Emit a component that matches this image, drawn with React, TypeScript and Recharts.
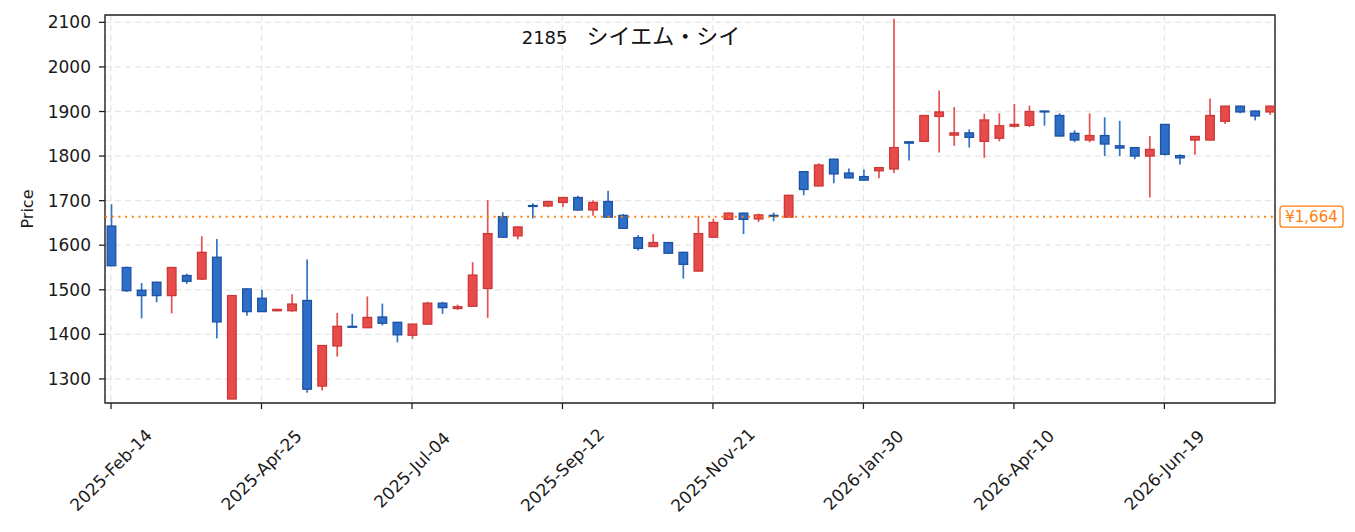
import { ComposedChart, Bar, XAxis, YAxis, CartesianGrid, ReferenceLine, ReferenceArea } from "recharts";

// weekly candles, index 0 = 2025-Feb-14
const opens = [
  1643, 1550, 1499, 1517, 1487, 1532, 1524, 1573, 1255, 1502,
  1481, 1453, 1453, 1476, 1284, 1374, 1418, 1415, 1439, 1427,
  1398, 1423, 1470, 1458, 1463, 1503, 1664, 1621, 1689, 1688,
  1696, 1707, 1679, 1698, 1667, 1617, 1597, 1606, 1584, 1542,
  1618, 1658, 1672, 1659, 1667, 1663, 1765, 1733, 1793, 1762,
  1754, 1767, 1771, 1832, 1833, 1889, 1847, 1852, 1833, 1840,
  1867, 1869, 1901, 1891, 1851, 1836, 1846, 1823, 1819, 1800,
  1871, 1801, 1836, 1836, 1878, 1912, 1901, 1899,
];
const highs = [
  1692, 1552, 1515, 1518, 1551, 1536, 1620, 1614, 1488, 1503,
  1500, 1457, 1490, 1568, 1376, 1448, 1446, 1485, 1469, 1428,
  1424, 1473, 1473, 1467, 1562, 1701, 1674, 1642, 1694, 1699,
  1708, 1711, 1701, 1722, 1670, 1623, 1625, 1607, 1585, 1665,
  1659, 1673, 1673, 1671, 1673, 1713, 1766, 1784, 1794, 1772,
  1770, 1775, 2108, 1833, 1892, 1947, 1910, 1860, 1895, 1896,
  1917, 1913, 1902, 1896, 1858, 1896, 1887, 1879, 1820, 1845,
  1872, 1804, 1845, 1929, 1913, 1913, 1902, 1913,
];
const lows = [
  1553, 1495, 1436, 1472, 1447, 1513, 1522, 1391, 1255, 1442,
  1450, 1452, 1451, 1269, 1274, 1350, 1415, 1414, 1420, 1382,
  1390, 1422, 1446, 1455, 1462, 1437, 1617, 1613, 1660, 1685,
  1686, 1678, 1666, 1662, 1637, 1588, 1596, 1581, 1525, 1541,
  1617, 1657, 1625, 1652, 1654, 1662, 1712, 1732, 1739, 1750,
  1745, 1750, 1762, 1790, 1832, 1808, 1823, 1819, 1796, 1833,
  1864, 1865, 1868, 1844, 1831, 1831, 1800, 1800, 1793, 1707,
  1801, 1781, 1803, 1835, 1872, 1896, 1880, 1892,
];
const closes = [
  1554, 1498, 1487, 1487, 1550, 1519, 1584, 1428, 1487, 1451,
  1451, 1456, 1468, 1277, 1375, 1418, 1416, 1438, 1425, 1399,
  1423, 1470, 1460, 1462, 1533, 1626, 1618, 1641, 1687, 1698,
  1707, 1679, 1696, 1663, 1638, 1593, 1606, 1582, 1557, 1626,
  1651, 1672, 1658, 1668, 1665, 1712, 1725, 1780, 1760, 1751,
  1746, 1774, 1819, 1829, 1891, 1899, 1852, 1842, 1881, 1868,
  1871, 1900, 1899, 1845, 1836, 1846, 1827, 1818, 1800, 1815,
  1804, 1796, 1844, 1891, 1912, 1899, 1890, 1912,
];

const tickIdx = [0, 10, 20, 30, 40, 50, 60, 70];
const tickLabels = [
  "2025-Feb-14", "2025-Apr-25", "2025-Jul-04", "2025-Sep-12",
  "2025-Nov-21", "2026-Jan-30", "2026-Apr-10", "2026-Jun-19",
];
const yTicks = [1300, 1400, 1500, 1600, 1700, 1800, 1900, 2000, 2100];
const lastPrice = 1664;
const title = ["2185", "シイエム・シイ"];

const X_DOMAIN = [-0.4, 77.35];
const Y_DOMAIN = [1246, 2116.5];

const UP = { fill: "#e84c4a", edge: "#cc3837", wick: "#e45350" };
const DOWN = { fill: "#2e6ec6", edge: "#1c52a4", wick: "#3373c8" };
const ORANGE = "#ff7f0e";
const FONT = "'DejaVu Sans', 'Noto Sans CJK JP', sans-serif";

const data = opens.map((o, i) => ({
  i,
  o,
  h: highs[i],
  l: lows[i],
  c: closes[i],
  range: [lows[i], highs[i]],
}));

const Candle = (props: any) => {
  const { x, y, width, height, payload } = props;
  if (!payload) return null;
  const { o, c, h, l } = payload;
  const top = Math.min(y, y + height);
  const span = Math.abs(height);
  const ppu = span / (h - l || 1);
  const cx = x + width / 2;
  const col = c >= o ? UP : DOWN;
  const yOf = (v: number) => top + (h - v) * ppu;
  const bTop = yOf(Math.max(o, c));
  const bH = Math.max(yOf(Math.min(o, c)) - bTop, 0.9);
  const bw = 8.6;
  return (
    <g>
      <line x1={cx} x2={cx} y1={top} y2={top + span} stroke={col.wick} strokeWidth={1.7} />
      <rect x={cx - bw / 2} y={bTop} width={bw} height={bH} fill={col.fill} stroke={col.edge} strokeWidth={1.3} />
    </g>
  );
};

const XTick = (props: any) => {
  const { x, y, payload } = props;
  const k = tickIdx.indexOf(payload.value);
  const cy = y + 59;
  return (
    <text
      x={x}
      y={cy}
      textAnchor="middle"
      dominantBaseline="central"
      transform={`rotate(-45, ${x}, ${cy})`}
      fontFamily={FONT}
      fontSize={17}
      fill="#1a1a1a"
    >
      {tickLabels[k] ?? ""}
    </text>
  );
};

const PriceTag = (props: any) => {
  const vb = props.viewBox || {};
  const yy = vb.y ?? 0;
  const x0 = (vb.x ?? 0) + (vb.width ?? 0) + 5;
  return (
    <g>
      <rect x={x0} y={yy - 10.5} width={63} height={21} rx={3} fill="#fff" stroke={ORANGE} strokeWidth={1.3} />
      <text x={x0 + 31.5} y={yy + 0.5} textAnchor="middle" dominantBaseline="central" fontFamily={FONT} fontSize={15} fill={ORANGE}>
        ¥{lastPrice.toLocaleString("en-US")}
      </text>
    </g>
  );
};

const PriceLabel = (props: any) => {
  const vb = props.viewBox || {};
  const cy = (vb.y ?? 0) + (vb.height ?? 0) / 2;
  return (
    <text x={27} y={cy} textAnchor="middle" dominantBaseline="central" transform={`rotate(-90, 27, ${cy})`} fontFamily={FONT} fontSize={16} fill="#1a1a1a">
      Price
    </text>
  );
};

export default function App() {
  return (
    <div style={{ position: "absolute", left: 0, top: 0, width: 1355, height: 532, background: "#fff" }}>
      <ComposedChart width={1355} height={532} data={data} margin={{ top: 15, right: 80, bottom: 0, left: 0 }}>
        <CartesianGrid stroke="#e6e6e6" strokeWidth={1.3} strokeDasharray="6 4" />
        <XAxis
          dataKey="i"
          type="number"
          domain={X_DOMAIN}
          allowDataOverflow
          ticks={tickIdx}
          interval={0}
          height={129}
          tickSize={6}
          tickLine={{ stroke: "#222", strokeWidth: 1.3 }}
          axisLine={false}
          tick={<XTick />}
        />
        <YAxis
          type="number"
          domain={Y_DOMAIN}
          allowDataOverflow
          ticks={yTicks}
          interval={0}
          width={105}
          tickSize={6}
          tickMargin={8}
          tickLine={{ stroke: "#222", strokeWidth: 1.3 }}
          axisLine={false}
          tick={{ fontFamily: FONT, fontSize: 17, fill: "#1a1a1a" }}
          label={<PriceLabel />}
        />
        <ReferenceArea
          x1={X_DOMAIN[0]}
          x2={X_DOMAIN[1]}
          y1={Y_DOMAIN[0]}
          y2={Y_DOMAIN[1]}
          fill="none"
          fillOpacity={0}
          stroke="#222"
          strokeWidth={1.4}
          ifOverflow="extendDomain"
        />
        <ReferenceLine
          y={lastPrice}
          stroke={ORANGE}
          strokeWidth={2}
          strokeDasharray="2 4.7"
          label={<PriceTag />}
        />
        <Bar dataKey="range" barSize={10} shape={<Candle />} isAnimationActive={false} />
      </ComposedChart>
      <svg width={1355} height={532} style={{ position: "absolute", left: 0, top: 0, pointerEvents: "none" }}>
        <text x={631} y={44} textAnchor="middle" fill="#111">
          <tspan fontFamily="'DejaVu Sans'" fontSize={18}>{title[0]}</tspan>
          <tspan fontFamily="'Noto Sans CJK JP'" fontSize={22} dx={19}>{title[1]}</tspan>
        </text>
      </svg>
    </div>
  );
}
